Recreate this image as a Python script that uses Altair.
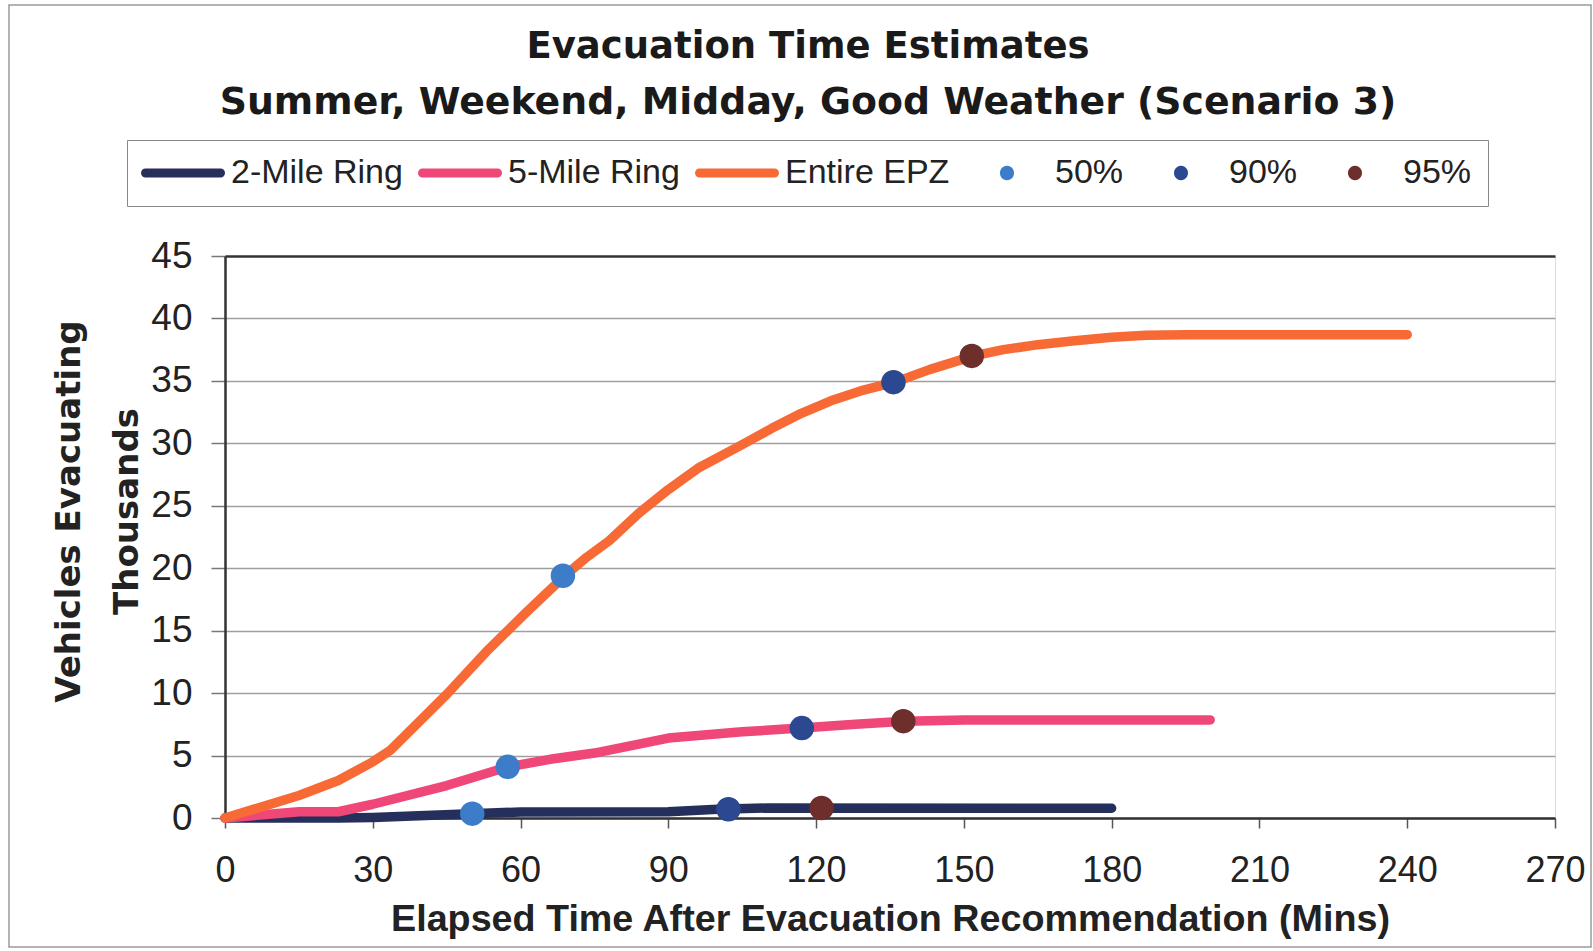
import altair as alt
import pandas as pd

# ---------------- data ----------------
series_names = ["2-Mile Ring", "5-Mile Ring", "Entire EPZ"]
series_colors = ["#252f5c", "#ef4778", "#f76a35"]

pct_names = ["50%", "90%", "95%"]
pct_colors = ["#3d7cc9", "#2c4891", "#6e2f2c"]

time_2mile = [0, 15, 23, 30, 50, 60, 90, 100, 110, 180]
veh_2mile = [0, 0, 0, 0.05, 0.35, 0.48, 0.5, 0.7, 0.8, 0.78]

time_5mile = [0, 15, 23, 30, 45, 57.5, 66, 75, 90, 105, 117, 128, 138, 150, 200]
veh_5mile = [0, 0.5, 0.5, 1.1, 2.6, 4.1, 4.7, 5.2, 6.4, 6.9, 7.2, 7.5, 7.75, 7.85, 7.85]

time_epz = [0, 15, 23, 30, 33.5, 45, 53, 61, 69, 73.5, 78, 84, 90, 96, 105, 111, 117, 123, 129,
            136, 143, 152, 158, 165, 172, 180, 187, 195, 240]
veh_epz = [0, 1.8, 3.0, 4.5, 5.4, 9.9, 13.3, 16.4, 19.4, 20.9, 22.2, 24.4, 26.3, 28.0, 29.9, 31.2,
           32.4, 33.4, 34.2, 34.9, 35.9, 37.0, 37.5, 37.9, 38.2, 38.5, 38.65, 38.7, 38.7]

# percent-evacuated markers: one per ring, in order 2-Mile, 5-Mile, Entire EPZ
time_50 = [50.2, 57.4, 68.6]
veh_50 = [0.35, 4.1, 19.4]
time_90 = [102.2, 117.1, 135.7]
veh_90 = [0.7, 7.2, 34.9]
time_95 = [121.1, 137.7, 151.6]
veh_95 = [0.8, 7.75, 37.0]

x_ticks = list(range(0, 271, 30))
y_ticks = list(range(0, 46, 5))

# ---------------- tables ----------------
line_rows = []
for name, ts, vs in [(series_names[0], time_2mile, veh_2mile),
                     (series_names[1], time_5mile, veh_5mile),
                     (series_names[2], time_epz, veh_epz)]:
    for t, v in zip(ts, vs):
        line_rows.append({"t": t, "v": v, "series": name})
lines_df = pd.DataFrame(line_rows)

pt_rows = []
for name, ts, vs in [(pct_names[0], time_50, veh_50),
                     (pct_names[1], time_90, veh_90),
                     (pct_names[2], time_95, veh_95)]:
    for t, v in zip(ts, vs):
        pt_rows.append({"t": t, "v": v, "pct": name})
pts_df = pd.DataFrame(pt_rows)

# legend symbol shapes (unit paths, 1 unit = 6 px at symbolSize 144):
# thick rounded bar for the ring lines, dot centred in the same-width slot for markers
LINE_PATH = ("M-2.417,-0.75L10.083,-0.75A0.75,0.75 0 0 1 10.083,0.75"
             "L-2.417,0.75A0.75,0.75 0 0 1 -2.417,-0.75Z")
DOT_PATH = ("M2.667,0A1.167,1.167 0 1 0 5.0,0"
            "A1.167,1.167 0 1 0 2.667,0Z M-3.167,0 M10.833,0")

legend_domain = series_names + pct_names
legend_colors = series_colors + pct_colors

# ---------------- encodings ----------------
x_enc = alt.X(
    "t:Q",
    scale=alt.Scale(domain=[0, 270], nice=False, zero=False),
    axis=alt.Axis(
        values=x_ticks, grid=False,
        title="Elapsed Time After Evacuation Recommendation (Mins)",
        tickSize=10, tickColor="#555", tickWidth=1.5,
        domainColor="#333", domainWidth=2.5,
        labelFont="Liberation Sans", labelFontSize=36, labelColor="#222",
        labelPadding=25, labelFlush=False, labelOverlap=False,
        titleFont="Liberation Sans", titleFontSize=37.7, titleFontWeight="bold",
        titleColor="#222", titlePadding=12,
    ),
)
y_enc = alt.Y(
    "v:Q",
    scale=alt.Scale(domain=[0, 45], nice=False),
    axis=alt.Axis(
        values=y_ticks, grid=True,
        gridColor=alt.condition("datum.value == 45", alt.value("#333"), alt.value("#a0a0a0")),
        gridWidth=alt.condition("datum.value == 45", alt.value(2.5), alt.value(1.5)),
        title=["Vehicles Evacuating", "Thousands"],
        tickSize=14, tickColor="#777", tickWidth=1.5,
        domainColor="#333", domainWidth=2.5,
        labelFont="Liberation Sans", labelFontSize=37, labelColor="#222",
        labelPadding=19, labelOverlap=False,
        titleFont="DejaVu Sans", titleFontSize=34, titleFontWeight="bold",
        titleColor="#222", titleLineHeight=58, titlePadding=6, titleY=255,
    ),
)

legend = alt.Legend(
    title=None, orient="none", legendX=-98, legendY=-116,
    direction="horizontal", columnPadding=14, labelOffset=54,
    symbolSize=144, symbolStrokeWidth=0, symbolOpacity=1,
    labelFont="Liberation Sans", labelFontSize=34, labelColor="#222",
    labelLimit=0, strokeColor="#888", padding=16, fillColor="white",
)

frame = alt.Chart(pd.DataFrame({"a": [0]})).mark_rect(
    fill="transparent", stroke="#9a9a9a", strokeWidth=1.5
).encode(
    x=alt.value(-216), x2=alt.value(1366), y=alt.value(-251), y2=alt.value(691)
)

lines = alt.Chart(lines_df).mark_line(
    strokeWidth=9.5, strokeCap="round", strokeJoin="round"
).encode(
    x=x_enc, y=y_enc,
    stroke=alt.Stroke("series:N", scale=alt.Scale(domain=series_names, range=series_colors), legend=None),
    order="t:Q",
)

points = alt.Chart(pts_df).mark_circle(opacity=1, size=600).encode(
    x=x_enc, y=y_enc,
    color=alt.Color("pct:N", scale=alt.Scale(domain=pct_names, range=pct_colors), legend=None),
)

# legend-only layer (draws no marks; its scales carry all six legend entries)
legend_layer = alt.Chart(pts_df).transform_filter("false").mark_point(filled=True, size=144).encode(
    x=x_enc, y=y_enc,
    fill=alt.Fill("pct:N", scale=alt.Scale(domain=legend_domain, range=legend_colors), legend=legend),
    shape=alt.Shape("pct:N", scale=alt.Scale(domain=legend_domain,
                                             range=[LINE_PATH] * 3 + [DOT_PATH] * 3), legend=legend),
)

chart = alt.layer(frame, lines, points, legend_layer).properties(
    width=1330, height=562,
    padding={"left": 8, "top": 4, "right": 0, "bottom": 0},
    title=alt.Title(
        "Evacuation Time Estimates",
        subtitle="Summer, Weekend, Midday, Good Weather (Scenario 3)",
        font="DejaVu Sans", fontSize=37, fontWeight="bold", color="#1a1a1a",
        subtitleFont="DejaVu Sans", subtitleFontSize=37.8, subtitleFontWeight="bold",
        subtitleColor="#1a1a1a", subtitlePadding=18,
        anchor="middle", dx=-82, offset=-119,
    ),
).configure_view(stroke="#333", strokeWidth=2.5).configure(background="white")

chart.save("out.html", embed_options={"renderer": "svg", "actions": False})
